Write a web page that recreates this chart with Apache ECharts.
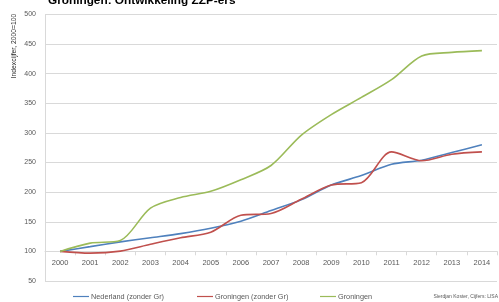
<!DOCTYPE html>
<html>
<head>
<meta charset="utf-8">
<script src="https://cdn.jsdelivr.net/npm/echarts@6/dist/echarts.min.js"></script>
<style>
  html, body { margin: 0; padding: 0; background: #fff; }
  #chart { width: 499px; height: 302px; }
</style>
</head>
<body>
<div id="chart"></div>
<script>
const years = ['2000', '2001', '2002', '2003', '2004', '2005', '2006', '2007',
  '2008', '2009', '2010', '2011', '2012', '2013', '2014']
const nederland = [100, 108, 116, 123, 130, 139, 151, 169, 187, 212, 228, 247, 254, 267, 280]
const groningenZonder = [100, 97, 100.5, 112, 123, 132.5, 161, 164, 188, 212, 216, 268, 253, 264, 268]
const groningen = [100, 114, 118.5, 173, 191, 201.5, 221, 245, 296, 331, 360, 390, 430, 436, 439]
const yTicks = [50, 100, 150, 200, 250, 300, 350, 400, 450, 500]

const font = 'Liberation Sans, Arial, sans-serif'
const chart = echarts.init(document.getElementById('chart'))

const legendItem = (name, left) => ({
  data: [name],
  left: left,
  top: 293,
  padding: 0,
  itemWidth: 16,
  itemHeight: 8,
  itemGap: 2,
  icon: 'path://M0,0 L16,0 L16,1.2 L0,1.2 Z',
  textStyle: { fontFamily: font, fontSize: 7.3, color: '#595959', padding: [0, 0, 0, -3] }
})

chart.setOption({
  animation: false,
  title: {
    text: 'Groningen: Ontwikkeling ZZP-ers',
    left: 43,
    top: -10,
    textStyle: { fontFamily: font, fontSize: 11.8, fontWeight: 'bold', color: '#000' }
  },
  legend: [
    legendItem('Nederland (zonder Gr)', 73),
    legendItem('Groningen (zonder Gr)', 197),
    legendItem('Groningen', 320)
  ],
  grid: { left: 45, right: 2, top: 14.5, bottom: 21 },
  xAxis: {
    type: 'category',
    data: years,
    boundaryGap: true,
    offset: -29.7,
    axisLine: { lineStyle: { color: '#d9d9d9' } },
    axisTick: { show: true, length: 4, lineStyle: { color: '#d9d9d9' } },
    axisLabel: { fontFamily: font, fontSize: 7.5, color: '#595959', margin: 8 },
    splitLine: { show: false }
  },
  yAxis: {
    type: 'value',
    min: yTicks[0],
    max: yTicks[yTicks.length - 1],
    interval: 50,
    axisLine: { show: true, lineStyle: { color: '#d9d9d9' } },
    axisTick: { show: false },
    axisLabel: { fontFamily: font, fontSize: 7, color: '#595959', margin: 9 },
    splitLine: { lineStyle: { color: '#d9d9d9' } }
  },
  graphic: [
    {
      type: 'text',
      x: 14,
      y: 46,
      rotation: Math.PI / 2,
      style: {
        text: 'Indexcijfer, 2000=100',
        fontFamily: font,
        fontSize: 6.8,
        fill: '#262626',
        textAlign: 'center',
        textVerticalAlign: 'middle'
      }
    },
    {
      type: 'text',
      right: 1,
      top: 294,
      style: {
        text: 'Sierdjan Koster, Cijfers: LISA',
        fontFamily: font,
        fontSize: 5,
        fill: '#595959'
      }
    }
  ],
  series: [
    {
      name: 'Nederland (zonder Gr)',
      type: 'line',
      data: nederland,
      smooth: 0.3,
      symbol: 'none',
      lineStyle: { color: '#4f81bd', width: 1.6 },
      itemStyle: { color: '#4f81bd' }
    },
    {
      name: 'Groningen (zonder Gr)',
      type: 'line',
      data: groningenZonder,
      smooth: 0.3,
      symbol: 'none',
      lineStyle: { color: '#c0504d', width: 1.6 },
      itemStyle: { color: '#c0504d' }
    },
    {
      name: 'Groningen',
      type: 'line',
      data: groningen,
      smooth: 0.3,
      symbol: 'none',
      lineStyle: { color: '#9bbb59', width: 1.6 },
      itemStyle: { color: '#9bbb59' }
    }
  ]
})
</script>
</body>
</html>
